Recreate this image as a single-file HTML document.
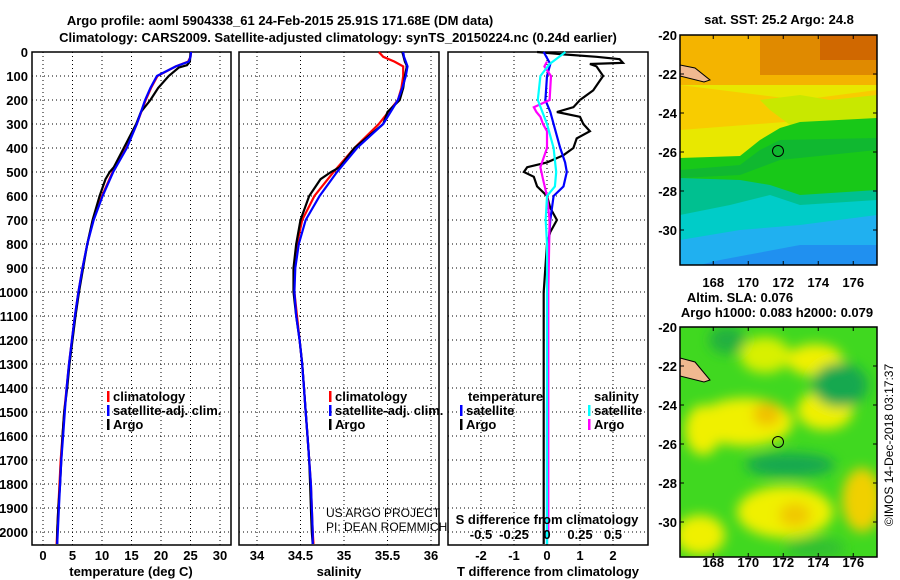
<!DOCTYPE html>
<html><head><meta charset="utf-8"><style>
html,body{margin:0;padding:0;background:#fff;}
svg{display:block;font-family:"Liberation Sans",sans-serif;}
.b{font-weight:bold;font-size:13px;}
</style></head><body>
<svg id="s" width="900" height="580" viewBox="0 0 900 580">
<defs>
<filter id="bl" x="-20%" y="-20%" width="140%" height="140%"><feGaussianBlur stdDeviation="6"/></filter>
<clipPath id="c1"><rect x="680" y="35" width="197" height="230"/></clipPath>
<clipPath id="c2"><rect x="680" y="327" width="197" height="230"/></clipPath>
</defs>
<text class="b" x="280" y="25" text-anchor="middle" font-size="14.5">Argo profile: aoml 5904338_61 24-Feb-2015 25.91S 171.68E (DM data)</text>
<text class="b" x="338" y="42" text-anchor="middle" font-size="14.5">Climatology: CARS2009. Satellite-adjusted climatology: synTS_20150224.nc (0.24d earlier)</text>
<g id="p1"></g>
<g id="p2"></g>
<g id="p3"></g>

<!-- SST map -->
<g>
<g clip-path="url(#c1)">
<rect x="680" y="35" width="197" height="230" fill="#e8e800"/>
<rect x="680" y="35" width="197" height="50" fill="#f4b400"/>
<rect x="760" y="35" width="117" height="40" fill="#e08a00"/>
<rect x="820" y="35" width="57" height="25" fill="#d06800"/>
<polygon points="680,85 760,95 800,100 877,90 877,115 680,130" fill="#f8cc00"/>
<polygon points="760,100 800,95 830,100 877,95 877,125 790,125 770,110" fill="#c8e800"/>
<polygon points="680,158 740,156 760,140 780,128 800,122 877,118 877,210 800,205 760,195 720,205 680,200" fill="#18c818"/>
<polygon points="680,170 740,165 760,150 780,140 877,138 877,150 780,160 740,175 680,178" fill="#10b830"/>
<polygon points="680,178 740,180 770,185 800,195 877,190 877,265 680,265" fill="#00c090"/>
<polygon points="680,215 730,205 770,195 800,205 877,200 877,265 680,265" fill="#00ccc8"/>
<polygon points="680,240 740,230 800,225 877,215 877,265 680,265" fill="#20b0f0"/>
<polygon points="720,260 800,245 877,245 877,265 700,265" fill="#2090f0"/>
<polygon points="680,65 695,68 710,80 704,82 680,76" fill="#f0b890" stroke="#000" stroke-width="1"/>
<circle cx="778" cy="151" r="5.5" fill="none" stroke="#000" stroke-width="1"/>
</g>
<rect x="680" y="35" width="197" height="230" fill="none" stroke="#000" stroke-width="1.5"/>
</g>
<text class="b" x="779" y="24" text-anchor="middle">sat. SST: 25.2 Argo: 24.8</text>

<!-- SLA map -->
<g>
<g clip-path="url(#c2)">
<rect x="680" y="327" width="197" height="230" fill="#40d820"/>
<g filter="url(#bl)">
<ellipse cx="765" cy="355" rx="25" ry="18" fill="#d8f000"/>
<ellipse cx="815" cy="360" rx="28" ry="16" fill="#f0f000"/>
<ellipse cx="745" cy="422" rx="48" ry="24" fill="#f0f000"/>
<ellipse cx="767" cy="414" rx="14" ry="12" fill="#f0c000"/>
<ellipse cx="825" cy="410" rx="28" ry="20" fill="#f0f000"/>
<ellipse cx="703" cy="430" rx="18" ry="25" fill="#f0f000"/>
<ellipse cx="785" cy="512" rx="48" ry="26" fill="#f0f000"/>
<ellipse cx="795" cy="515" rx="16" ry="12" fill="#f0c800"/>
<ellipse cx="862" cy="500" rx="20" ry="32" fill="#f0d000"/>
<ellipse cx="700" cy="535" rx="25" ry="20" fill="#f0f000"/>
<ellipse cx="727" cy="340" rx="18" ry="14" fill="#20b040"/>
<ellipse cx="840" cy="385" rx="28" ry="22" fill="#18a850"/>
<ellipse cx="790" cy="465" rx="45" ry="12" fill="#18a850"/>
<ellipse cx="815" cy="548" rx="30" ry="10" fill="#30c030"/>
</g>
<polygon points="680,358 695,362 710,380 704,382 680,376" fill="#f0b890" stroke="#000" stroke-width="1"/>
<circle cx="778" cy="442" r="5.5" fill="none" stroke="#000" stroke-width="1"/>
</g>
<rect x="680" y="327" width="197" height="230" fill="none" stroke="#000" stroke-width="1.5"/>
</g>
<text class="b" x="740" y="302" text-anchor="middle">Altim. SLA: 0.076</text>
<text class="b" x="777" y="317" text-anchor="middle">Argo h1000: 0.083 h2000: 0.079</text>
<text x="893" y="445" font-size="12" text-anchor="middle" transform="rotate(-90 893 445)">©IMOS 14-Dec-2018 03:17:37</text>
<g id="maps-ax"></g>
</svg>
<script>
// ---- data ----
const depthTicks=[0,100,200,300,400,500,600,700,800,900,1000,1100,1200,1300,1400,1500,1600,1700,1800,1900,2000];
const tempTicks=[0,5,10,15,20,25,30];
const salTicks=[34,34.5,35,35.5,36];
const tdiffTicks=[-2,-1,0,1,2];
const sdiffTicks=[-0.5,-0.25,0,0.25,0.5];
const sdiffLabels=["-0.5","-0.25","0","0.25","0.5"];
const lonTicks=[168,170,172,174,176];
const latTicks=[-20,-22,-24,-26,-28,-30];

const argoDepth=[0,40,55,65,100,150,200,250,300,400,480,500,530,600,700,800,900,1000,1100,1200,1300,1400,1500,1600,1700,1800,1900,2000,2050];
const argoTemp=[25.0,24.9,24.4,23.0,21.3,19.5,18.2,16.6,15.8,13.7,12.0,11.3,10.6,9.6,8.4,7.5,6.8,6.1,5.5,5.0,4.5,4.1,3.6,3.3,3.1,2.9,2.6,2.4,2.4];
const argoSal=[35.67,35.70,35.72,35.72,35.70,35.68,35.64,35.50,35.45,35.12,34.95,34.85,34.73,34.60,34.50,34.45,34.42,34.42,34.45,34.49,34.52,34.54,34.56,34.58,34.60,34.61,34.62,34.63,34.64];
const climDepth=[0,20,40,60,100,150,200,300,400,500,600,700,800,900,1000,1100,1200,1300,1400,1500,1600,1700,1800,1900,2000,2050];
const climTemp=[25.1,25.0,24.6,22.5,19.4,18.3,17.4,15.9,14.1,11.8,10.0,8.5,7.5,6.7,6.0,5.4,4.9,4.4,4.0,3.6,3.3,3.0,2.8,2.6,2.4,2.3];
const climSal=[35.40,35.45,35.58,35.68,35.68,35.66,35.62,35.40,35.12,34.88,34.66,34.52,34.46,34.43,34.43,34.46,34.49,34.52,34.54,34.56,34.58,34.60,34.62,34.63,34.64,34.65];
const satTemp=[25.1,25.0,24.7,22.5,19.3,18.2,17.3,15.9,14.2,11.9,10.1,8.6,7.5,6.7,6.0,5.4,4.9,4.4,4.0,3.7,3.4,3.1,2.9,2.7,2.5,2.4];
const satSal=[35.68,35.69,35.71,35.73,35.71,35.67,35.62,35.45,35.15,34.92,34.72,34.56,34.48,34.44,34.43,34.45,34.49,34.52,34.54,34.56,34.58,34.60,34.62,34.63,34.64,34.64];

const tdArgoDepth=[0,10,20,30,45,50,60,100,120,160,200,230,250,270,300,330,360,400,430,460,480,500,520,560,600,650,700,750,800,1000,1500,2000,2050];
const tdArgo=[-0.3,0.5,1.5,2.2,2.3,1.3,1.5,1.7,1.6,1.4,1.0,0.8,0.3,1.0,1.1,1.3,0.9,0.8,0.5,0.0,-0.6,-0.7,-0.4,-0.3,0.0,0.1,0.3,0.1,0.0,-0.1,-0.1,-0.1,-0.1];
const tdSatDepth=[0,50,100,200,250,300,400,460,500,560,600,700,800,1000,1500,2000,2050];
const tdSat=[-0.1,0.1,0.0,-0.05,0.1,0.2,0.4,0.55,0.6,0.5,0.2,0.1,0.05,0.02,0.0,0.0,0.0];
const sdSatDepth=[0,50,100,200,300,400,500,560,600,700,800,1000,1500,2000,2050];
const sdSat=[0.14,0.02,-0.05,-0.07,0.0,0.05,0.07,0.06,0.0,-0.01,0.0,0.0,0.0,0.0,0.0];
const sdArgoDepth=[40,60,100,200,230,250,270,300,330,400,480,530,600,700,1000,1500,2000];
const sdArgo=[0.0,-0.02,0.03,0.02,-0.1,-0.08,-0.05,-0.03,0.0,0.0,-0.05,-0.03,0.0,0.02,0.01,0.01,0.01];

// ---- drawing ----
const NS="http://www.w3.org/2000/svg";
const S=document.getElementById('s');
function mk(tag,attrs,parent){const e=document.createElementNS(NS,tag);for(const k in attrs)e.setAttribute(k,attrs[k]);(parent||S).appendChild(e);return e;}
const TOP=52,BOT=545;
const yD=d=>TOP+d*0.24;
const xT=t=>43+t*5.9;
const xS=s=>257+(s-34)*87;
const xTD=t=>547+t*33;
const xSD=s=>547+s*132;
function frame(g,x0,x1,vx){
  vx.forEach(x=>{const l=mk('line',{x1:x,x2:x,y1:TOP,y2:BOT,stroke:'#000','stroke-dasharray':'1,3'},g);
  
  });
  depthTicks.forEach(d=>{const l=mk('line',{x1:x0,x2:x1,y1:yD(d),y2:yD(d),stroke:'#000','stroke-dasharray':'1,3'},g);
  
  });
  const r=mk('rect',{x:x0,y:TOP,width:x1-x0,height:BOT-TOP,fill:'none',stroke:'#000','stroke-width':1.5},g);
  
  
}
function line(g,xs,ds,fx,col,name){
  const p=xs.map((v,i)=>fx(v).toFixed(1)+','+yD(ds[i]).toFixed(1)).join(' ');
  const l=mk('polyline',{points:p,fill:'none',stroke:col,'stroke-width':2.2},g);
  
  
}
function txt(g,x,y,s,anchor,cls,name){const t=mk('text',{x:x,y:y,'text-anchor':anchor||'start','class':cls||'b'},g);t.textContent=s;
  
  return t;}
function legend(g,x,y,items){items.forEach((it,i)=>{mk('rect',{x:x,y:y+i*14-10,width:2.5,height:11,fill:it[1]},g);txt(g,x+6,y+i*14,it[0],'start','b','legend-entry');});}

// panel 1
const g1=document.getElementById('p1');
frame(g1,32,231,tempTicks.map(xT));
depthTicks.forEach(d=>txt(g1,28,yD(d)+5,String(d),'end','b','depth-tick-label'));
tempTicks.forEach(t=>txt(g1,xT(t),560,String(t),'middle','b','temp-tick-label'));
txt(g1,131,576,'temperature (deg C)','middle','b','temp-axis-title');
line(g1,climTemp,climDepth,xT,'#f00','climatology-temp');
line(g1,argoTemp,argoDepth,xT,'#000','argo-temp');
line(g1,satTemp,climDepth,xT,'#00f','satellite-temp');
legend(g1,107,401,[['climatology','#f00'],['satellite-adj. clim.','#00f'],['Argo','#000']]);

// panel 2
const g2=document.getElementById('p2');
frame(g2,239,439,salTicks.map(xS));
salTicks.forEach(t=>txt(g2,xS(t),560,String(t),'middle','b','sal-tick-label'));
txt(g2,339,576,'salinity','middle','b','sal-axis-title');
line(g2,climSal,climDepth,xS,'#f00','climatology-sal');
line(g2,argoSal,argoDepth,xS,'#000','argo-sal');
line(g2,satSal,climDepth,xS,'#00f','satellite-sal');
legend(g2,329,401,[['climatology','#f00'],['satellite-adj. clim.','#00f'],['Argo','#000']]);
txt(g2,326,517,'US ARGO PROJECT','start','n','credit-project').setAttribute('font-size','12');
txt(g2,326,531,'PI: DEAN ROEMMICH','start','n','credit-pi').setAttribute('font-size','12');

// panel 3
const g3=document.getElementById('p3');
frame(g3,448,648,tdiffTicks.map(xTD));
tdiffTicks.forEach(t=>txt(g3,xTD(t),560,String(t),'middle','b','tdiff-tick-label'));
txt(g3,548,576,'T difference from climatology','middle','b','tdiff-axis-title');
line(g3,tdArgo,tdArgoDepth,xTD,'#000','argo-tdiff');
line(g3,tdSat,tdSatDepth,xTD,'#00f','satellite-tdiff');
line(g3,sdArgo,sdArgoDepth,xSD,'#f0f','argo-sdiff');
line(g3,sdSat,sdSatDepth,xSD,'#0ff','satellite-sdiff');
txt(g3,547,524,'S difference from climatology','middle','b','sdiff-axis-title');
sdiffTicks.forEach((t,i)=>txt(g3,xSD(t),539,sdiffLabels[i],'middle','b','sdiff-tick-label'));
txt(g3,468,401,'temperature','start','b','legend-temp-heading');
legend(g3,460,415,[['satellite','#00f'],['Argo','#000']]);
txt(g3,594,401,'salinity','start','b','legend-sal-heading');
legend(g3,588,415,[['satellite','#0ff'],['Argo','#f0f']]);

// map axes
const gm=document.getElementById('maps-ax');
const xL=l=>680+(l-166.1)*17.5;
[[35,265,287],[327,557,567]].forEach(([t,b,ly])=>{
  const yL=l=>t+(-20-l)*19.5;
  lonTicks.forEach(l=>{mk('line',{x1:xL(l),x2:xL(l),y1:t,y2:t+4,stroke:'#000'},gm);mk('line',{x1:xL(l),x2:xL(l),y1:b,y2:b-4,stroke:'#000'},gm);
    txt(gm,xL(l),ly,String(l),'middle','b','lon-tick-label');});
  latTicks.forEach(l=>{mk('line',{x1:680,x2:684,y1:yL(l),y2:yL(l),stroke:'#000'},gm);mk('line',{x1:877,x2:873,y1:yL(l),y2:yL(l),stroke:'#000'},gm);
    txt(gm,677,yL(l)+5,String(l),'end','b','lat-tick-label');});
});
</script>
</body></html>
